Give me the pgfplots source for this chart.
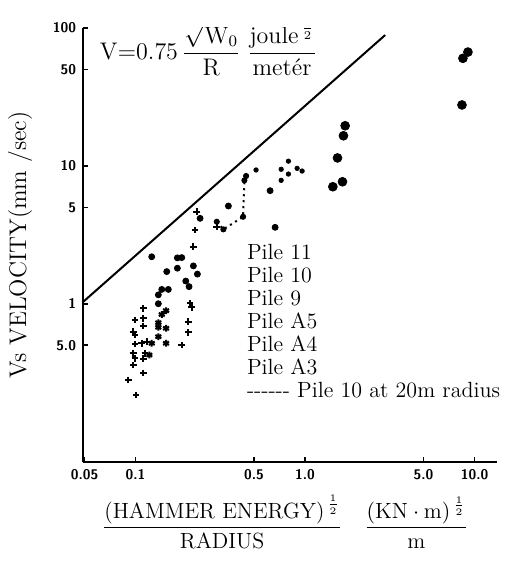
\documentclass[border=0pt]{standalone}
\usepackage{amsmath}
\usepackage{pgfplots}
\pgfplotsset{compat=1.18}
\begin{document}
\begin{tikzpicture}
\begin{axis}[
  scale only axis, width=207pt, height=217pt,
  xmode=log, ymode=log,
  xmin=0.049, xmax=13.6, ymin=0.0713, ymax=100,
  axis x line*=bottom, axis y line*=left,
  axis line style={line width=1pt},
  tick align=inside, major tick length=2.5pt,
  tick style={line width=0.8pt, black},
  xtick={0.05,0.1,0.5,1,5,10}, xticklabels={0.05,0.1,0.5,1.0,5.0,10.0},
  ytick={0.5,1,5,10,50,100}, yticklabels={5.0,1,5,10,50,100},
  minor xtick={}, minor ytick={},
  tick label style={font=\sffamily\bfseries\scriptsize},
  xlabel={$\dfrac{\text{(HAMMER ENERGY)}^{\,\frac{1}{2}}}{\text{RADIUS}}\quad\dfrac{(\text{KN}\cdot\text{m})^{\,\frac{1}{2}}}{\text{m}}$},
  xlabel style={font=\fontsize{11}{13}\selectfont, at={(axis description cs:0.488,-0.138)}, anchor=center},
  ylabel={Vs VELOCITY(mm /sec)},
  ylabel style={font=\large, at={(axis description cs:-0.152,0.5)}, anchor=center},
  legend image code/.code={},
  legend style={draw=none, fill=none, at={(rel axis cs:0.395,0.505)}, anchor=north west,
    font=\fontsize{11}{13}\selectfont, inner sep=0pt, row sep=0pt,
    nodes={inner sep=0pt, text height=8pt, text depth=3.5pt}, cells={anchor=west}},
]
% theoretical line
\addplot[black, line width=1pt, mark=none, forget plot] coordinates {(0.049,1.03) (2.97,88.6)};

% Pile 11
\addplot[only marks, mark=*, mark size=2.2pt, black] coordinates {
(1.724,19.5) (1.685,16.5) (1.554,11.4) (1.663,7.66) (1.459,7.05)
(9.14,66.7) (8.54,60.1) (8.43,27.6)};
\addlegendentry{Pile 11}

% Pile 10
\addplot[only marks, mark=*, mark size=1.5pt, black] coordinates {
(0.353,5.11) (0.666,3.58) (0.622,6.60) (0.2403,4.16) (0.1246,2.19)
(0.1765,2.15) (0.1874,2.16) (0.1528,1.71) (0.1765,1.81) (0.2194,1.88)
(0.2317,1.64) (0.1979,1.46) (0.2069,1.33) (0.1428,1.27) (0.1561,1.27)
(0.1363,1.16) (0.1363,1.00)};
\addlegendentry{Pile 10}

% Pile 9
\addplot[only marks, mark=*, mark size=1.1pt, black] coordinates {
(0.723,9.43) (0.798,10.8) (0.798,8.71) (0.898,9.58) (0.961,9.16)
(0.723,7.84) (0.514,9.32) (0.449,8.43)};
\addlegendentry{Pile 9}

% Pile A5
\addplot[only marks, mark=+, mark size=1.7pt, line width=1.1pt, black] coordinates {
(0.2298,4.65) (0.2245,3.42) (0.2194,2.59) (0.2098,1.01) (0.2147,0.943)
(0.2050,0.741) (0.2050,0.62) (0.1874,0.503) (0.3015,3.62)};
\addlegendentry{Pile A5}

% Pile A4
\addplot[only marks, mark=asterisk, mark size=1.7pt, line width=1pt, black] coordinates {
(0.1514,0.891) (0.1428,0.835) (0.1363,0.729) (0.1363,0.675) (0.1514,0.664)
(0.1363,0.577) (0.1514,0.517) (0.1246,0.517) (0.1206,0.425)};
\addlegendentry{Pile A4}

% Pile A3
\addplot[only marks, mark=+, mark size=1.7pt, line width=1.1pt, black] coordinates {
(0.1112,0.927) (0.0994,0.763) (0.1112,0.785) (0.1112,0.69) (0.0970,0.627)
(0.0994,0.594) (0.1165,0.531) (0.1088,0.517) (0.0994,0.511) (0.0970,0.437)
(0.1138,0.437) (0.1112,0.40) (0.0994,0.402) (0.0970,0.360) (0.1112,0.315)
(0.0907,0.28) (0.1007,0.218)};
\addlegendentry{Pile A3}

% Pile 10 at 20 m radius
\addplot[black, dotted, line width=1pt, mark=*, mark size=1pt, mark options={solid}] coordinates {
(0.3015,3.93) (0.3299,3.46) (0.4311,4.27) (0.4388,7.84) (0.449,8.43)};
\addlegendentry{{-}{-}{-}{-}{-}{-} Pile 10 at 20m radius}

\node[anchor=west, font=\large, inner sep=0pt] at (rel axis cs:0.04,0.955)
  {$\mathrm{V{=}0.75}\,\dfrac{\sqrt{\mathrm{W}_0}}{\mathrm{R}}\;\dfrac{\text{joule}^{\,\frac{1}{2}}}{\text{metér}}$};
\end{axis}
\pgfresetboundingbox
\path ([shift={(-41.5pt,-49.5pt)}]current axis.south west) rectangle ([shift={(6.5pt,13.9pt)}]current axis.north east);
\end{tikzpicture}
\end{document}
